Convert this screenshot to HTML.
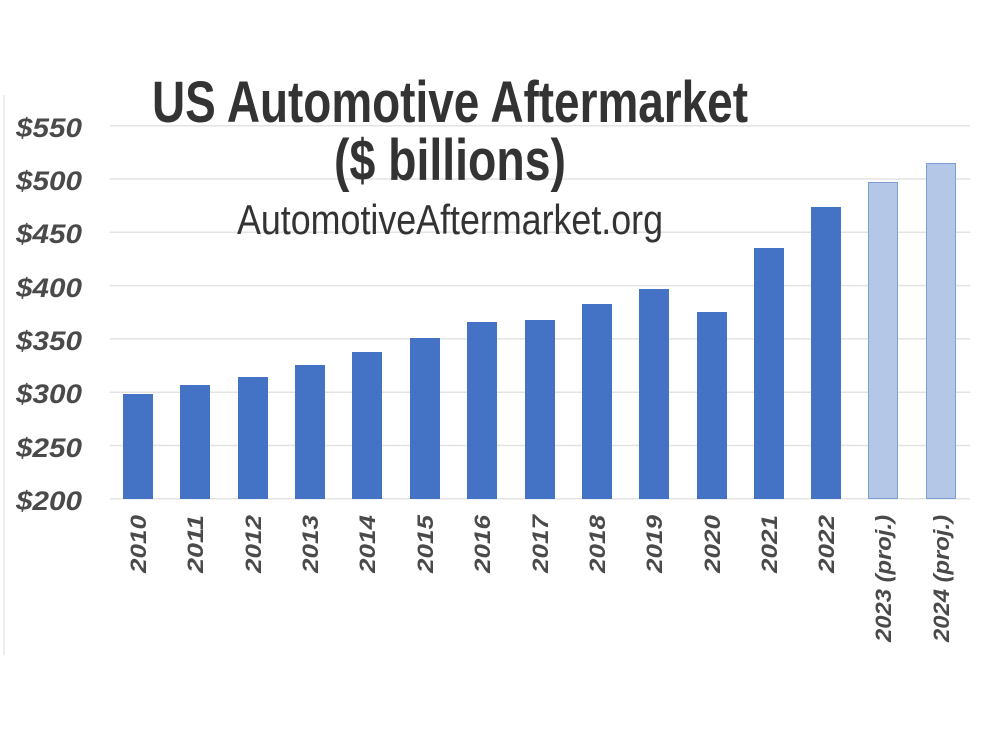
<!DOCTYPE html>
<html><head><meta charset="utf-8"><style>html,body{margin:0;padding:0;background:#fff}</style></head>
<body>
<svg width="1000" height="750" xmlns="http://www.w3.org/2000/svg" font-family="Liberation Sans, sans-serif">
<rect width="1000" height="750" fill="#fff"/>
<line x1="4" y1="95" x2="4" y2="655" stroke="#eee" stroke-width="2"/>
<g stroke="#e3e3e3" stroke-width="1.5">
<line x1="110" y1="125.7" x2="970" y2="125.7"/>
<line x1="110" y1="179" x2="970" y2="179"/>
<line x1="110" y1="232.3" x2="970" y2="232.3"/>
<line x1="110" y1="285.6" x2="970" y2="285.6"/>
<line x1="110" y1="338.9" x2="970" y2="338.9"/>
<line x1="110" y1="392.2" x2="970" y2="392.2"/>
<line x1="110" y1="445.5" x2="970" y2="445.5"/>
<line x1="110" y1="498.8" x2="970" y2="498.8"/>
</g>
<g font-weight="bold" font-style="italic" font-size="27" fill="#4a4a4a" text-anchor="start">
<text x="16" y="137" textLength="66" lengthAdjust="spacingAndGlyphs">$550</text>
<text x="16" y="190" textLength="66" lengthAdjust="spacingAndGlyphs">$500</text>
<text x="16" y="243" textLength="66" lengthAdjust="spacingAndGlyphs">$450</text>
<text x="16" y="297" textLength="66" lengthAdjust="spacingAndGlyphs">$400</text>
<text x="16" y="350" textLength="66" lengthAdjust="spacingAndGlyphs">$350</text>
<text x="16" y="403" textLength="66" lengthAdjust="spacingAndGlyphs">$300</text>
<text x="16" y="457" textLength="66" lengthAdjust="spacingAndGlyphs">$250</text>
<text x="16" y="510" textLength="66" lengthAdjust="spacingAndGlyphs">$200</text>
</g>
<g fill="#4472c4">
<rect x="123" y="394" width="30" height="105"/>
<rect x="180" y="385" width="30" height="114"/>
<rect x="238" y="377" width="30" height="122"/>
<rect x="295" y="365" width="30" height="134"/>
<rect x="352" y="352" width="30" height="147"/>
<rect x="410" y="338" width="30" height="161"/>
<rect x="467" y="322" width="30" height="177"/>
<rect x="525" y="320" width="30" height="179"/>
<rect x="582" y="304" width="30" height="195"/>
<rect x="639" y="289" width="30" height="210"/>
<rect x="697" y="312" width="30" height="187"/>
<rect x="754" y="248" width="30" height="251"/>
<rect x="811" y="207" width="30" height="292"/>
</g>
<g fill="#b4c7e7" stroke="#7f9fd4" stroke-width="1">
<rect x="868.5" y="182.5" width="29" height="316"/>
<rect x="926.5" y="163.5" width="29" height="335"/>
</g>
<g font-weight="bold" font-style="italic" font-size="22" fill="#4a4a4a" text-anchor="end">
<text transform="translate(146,515) rotate(-90)" textLength="58" lengthAdjust="spacingAndGlyphs">2010</text>
<text transform="translate(203,515) rotate(-90)" textLength="58" lengthAdjust="spacingAndGlyphs">2011</text>
<text transform="translate(261,515) rotate(-90)" textLength="58" lengthAdjust="spacingAndGlyphs">2012</text>
<text transform="translate(318,515) rotate(-90)" textLength="58" lengthAdjust="spacingAndGlyphs">2013</text>
<text transform="translate(375,515) rotate(-90)" textLength="58" lengthAdjust="spacingAndGlyphs">2014</text>
<text transform="translate(433,515) rotate(-90)" textLength="58" lengthAdjust="spacingAndGlyphs">2015</text>
<text transform="translate(490,515) rotate(-90)" textLength="58" lengthAdjust="spacingAndGlyphs">2016</text>
<text transform="translate(548,515) rotate(-90)" textLength="58" lengthAdjust="spacingAndGlyphs">2017</text>
<text transform="translate(605,515) rotate(-90)" textLength="58" lengthAdjust="spacingAndGlyphs">2018</text>
<text transform="translate(662,515) rotate(-90)" textLength="58" lengthAdjust="spacingAndGlyphs">2019</text>
<text transform="translate(720,515) rotate(-90)" textLength="58" lengthAdjust="spacingAndGlyphs">2020</text>
<text transform="translate(777,515) rotate(-90)" textLength="58" lengthAdjust="spacingAndGlyphs">2021</text>
<text transform="translate(834,515) rotate(-90)" textLength="58" lengthAdjust="spacingAndGlyphs">2022</text>
<text transform="translate(891,515) rotate(-90)" textLength="127" lengthAdjust="spacingAndGlyphs">2023 (proj.)</text>
<text transform="translate(949,515) rotate(-90)" textLength="127" lengthAdjust="spacingAndGlyphs">2024 (proj.)</text>
</g>
<g fill="#333" font-weight="bold" text-anchor="middle">
<text x="450" y="122" font-size="58" textLength="596" lengthAdjust="spacingAndGlyphs">US Automotive Aftermarket</text>
<text x="450" y="180" font-size="58" textLength="232" lengthAdjust="spacingAndGlyphs">($ billions)</text>
</g>
<text x="450" y="234" font-size="42" fill="#333" text-anchor="middle" textLength="426" lengthAdjust="spacingAndGlyphs">AutomotiveAftermarket.org</text>
</svg>
</body></html>
